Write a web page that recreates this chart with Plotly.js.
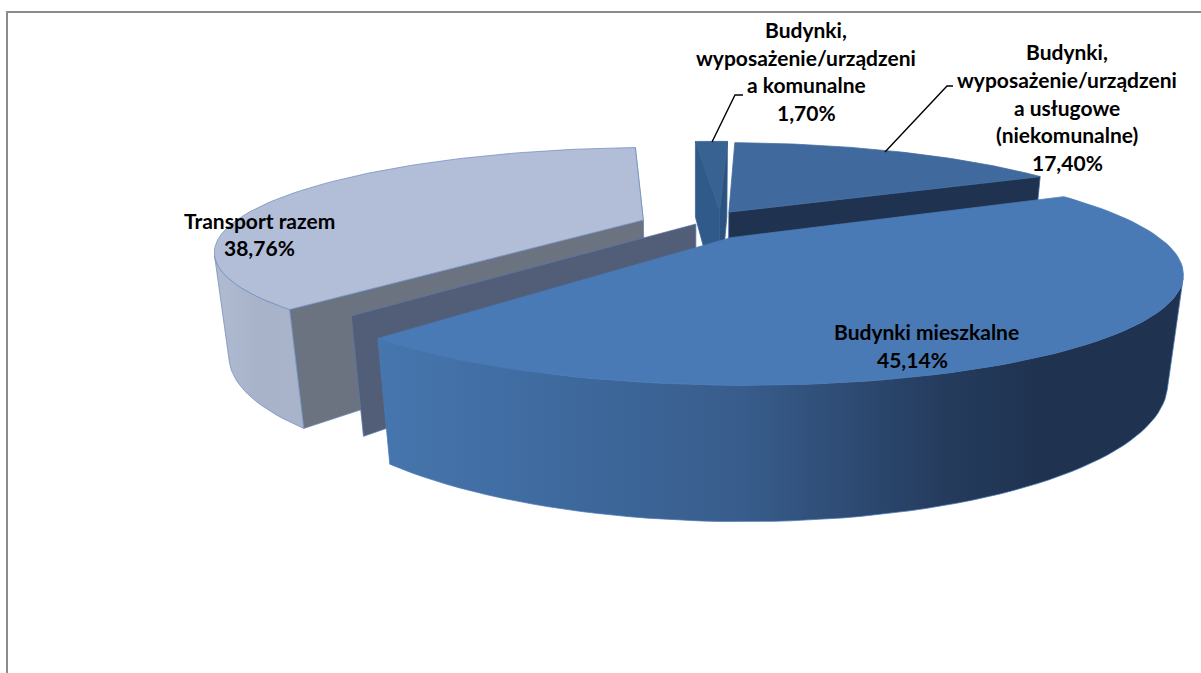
<!DOCTYPE html>
<html lang="pl">
<head>
<meta charset="utf-8">
<script src="https://cdn.plot.ly/plotly-3.0.1.min.js"></script>
<style>html,body{margin:0;padding:0;background:#fff}#chart{width:1201px;height:673px}</style>
</head>
<body>
<div id="chart"></div>
<script>
// Shares of the energy balance, clockwise from the top of the pie.
const categories = ['Budynki komunalne', 'Budynki usługowe', 'Budynki mieszkalne', 'Pozostałe', 'Transport razem'];
const shares = [1.70, 17.40, 45.14, 0, 38.76];

// Label lines as printed next to each slice.
const labelKomunalne = ['Budynki,', 'wyposażenie/urządzeni', 'a komunalne', '1,70%'];
const labelUslugowe = ['Budynki,', 'wyposażenie/urządzeni', 'a usługowe', '(niekomunalne)', '17,40%'];
const labelMieszkalne = ['Budynki mieszkalne', '45,14%'];
const labelTransport = ['Transport razem', '38,76%'];

// Perspective camera for the tilted pie, in page pixels.
const cam = {cx: 695, cy: 225, f: 430, g: 100, k: 0.3, vx: 695, vy: 3700, q: 0.029};
const RADIUS = 0.96;
const START_ANGLE = -3.5;

// Per-slice explosion offset in pie units, and slice styling.
const shiftX = [0.06, 0.082, 0.08, 0.002, -0.122];
const shiftY = [0.157, 0.135, -0.122, 0.01, 0.05];
const topColor = ['#376292', '#406a9e', '#4a7ab5', null, '#b2bed8'];
const endWallColor = ['#2c5280', '#1f3350', null, '#525e78', '#a9b5cc'];
const startWallColor = ['#2f5a8a', null, null, null, '#6b7280'];
const edgeColor = ['#376292', '#406a9e', '#4a7ab5', '#5a78a8', '#6f8fbd'];
const rimScale = [
  null, null,
  [[0, '#4676ae'], [0.2, '#3f6ba0'], [0.45, '#385d8c'], [0.7, '#253c5e'], [0.82, '#1f3350'], [1, '#1f3350']],
  null,
  [[0, '#b0bbd1'], [0.5, '#a8b3ca'], [1, '#a9b4cb']]
];

function project(x, y) {
  const w = 1 + cam.k * y;
  return {x: cam.cx + cam.f * x / w, y: cam.cy - cam.g * y / w, w: w};
}
function lower(p) {
  const s = p.w / (p.w + cam.q);
  return {x: cam.vx + (p.x - cam.vx) * s, y: cam.vy + (p.y - cam.vy) * s};
}
function rimPoint(i, deg) {
  const a = deg * Math.PI / 180;
  return project(shiftX[i] + RADIUS * Math.sin(a), shiftY[i] + RADIUS * Math.cos(a));
}
function poly(points, color, line, gradient) {
  const t = {
    type: 'scatter', mode: 'lines', fill: 'toself', hoverinfo: 'skip', showlegend: false,
    x: points.map(p => p.x).concat(points[0].x),
    y: points.map(p => p.y).concat(points[0].y),
    line: {color: line || color, width: 0.75}
  };
  if (gradient) {
    t.fillgradient = {type: 'horizontal', colorscale: gradient};
  } else {
    t.fillcolor = color;
  }
  return t;
}

const total = shares.reduce((a, b) => a + b, 0);
const traces = [];

// Slices are painted back to front so nearer ones cover the walls behind them.
function addSlice(i, a0, a1) {
  const apex = project(shiftX[i], shiftY[i]);
  const arc = [];
  const STEPS = 90;
  for (let s = 0; s <= STEPS; s++) arc.push(rimPoint(i, a0 + (a1 - a0) * s / STEPS));
  const first = arc[0], last = arc[STEPS];

  // Cut faces on the two radii.
  if (endWallColor[i]) traces.push(poly([apex, last, lower(last), lower(apex)], endWallColor[i], edgeColor[i]));
  if (startWallColor[i]) traces.push(poly([apex, first, lower(first), lower(apex)], startWallColor[i], edgeColor[i]));

  // Outer rim: only the run of strips that turns towards the viewer.
  if (rimScale[i]) {
    const seen = [];
    for (let s = 0; s < STEPS; s++) {
      const p = arc[s], n = arc[s + 1], d = lower(n);
      const area = (n.x - p.x) * (d.y - p.y) - (n.y - p.y) * (d.x - p.x);
      if (area < 0) seen.push(s);
    }
    if (seen.length) {
      const run = arc.slice(seen[0], seen[seen.length - 1] + 2);
      traces.push(poly(run.concat(run.slice().reverse().map(lower)), null, edgeColor[i], rimScale[i]));
    }
  }
  if (topColor[i]) traces.push(poly([apex].concat(arc), topColor[i], edgeColor[i]));
}

const spans = [];
let cursor = START_ANGLE;
shares.forEach((v, i) => {
  const sweep = 360 * v / total;
  spans.push([cursor, cursor + sweep]);
  cursor += sweep;
});
[4, 3, 0, 1, 2].forEach(i => addSlice(i, spans[i][0], spans[i][1]));

// Printed labels: one annotation per line to keep the tall line pitch.
function labelLines(lines, xs, ys) {
  return lines.map((text, n) => ({
    text: text, x: Array.isArray(xs) ? xs[n] : xs, y: ys[n], xref: 'x', yref: 'y',
    showarrow: false, xanchor: 'center', yanchor: 'middle',
    font: {family: 'Lato, Carlito, sans-serif', size: 21, color: '#000', weight: 700}
  }));
}
const annotations = [].concat(
  labelLines(labelKomunalne, 806, [29, 57, 84, 112]),
  labelLines(labelUslugowe, 1067, [51, 79, 107, 134, 162]),
  labelLines(labelMieszkalne, [926, 912], [331, 359]),
  labelLines(labelTransport, [259, 259], [220, 247])
);

// Frame of the chart area and the two leader lines.
const rule = {color: '#8c8c8c', width: 2};
const leader = {color: '#000', width: 1.4};
const shapes = [
  {type: 'line', x0: 7, y0: 12, x1: 7, y1: 673, line: rule},
  {type: 'line', x0: 6, y0: 12, x1: 1201, y1: 12, line: rule},
  {type: 'path', path: 'M 712 142 L 735 95 L 743 95', line: leader},
  {type: 'path', path: 'M 885 152 L 947 86 L 953 86', line: leader}
];

Plotly.newPlot('chart', traces, {
  width: 1201, height: 673,
  margin: {l: 0, r: 0, t: 0, b: 0},
  paper_bgcolor: '#fff', plot_bgcolor: '#fff', showlegend: false,
  xaxis: {range: [0, 1201], visible: false, fixedrange: true},
  yaxis: {range: [673, 0], visible: false, fixedrange: true},
  annotations: annotations, shapes: shapes
}, {displayModeBar: false, staticPlot: true});
</script>
</body>
</html>
